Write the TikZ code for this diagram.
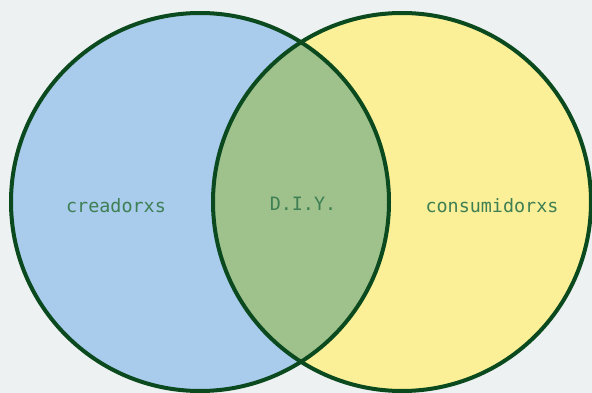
\documentclass[tikz,border=0pt]{standalone}
\usepackage{fontspec}
\newfontfamily\monofont{DejaVu Sans Mono}
\definecolor{bgc}{HTML}{EEF1F1}
\definecolor{bluefill}{HTML}{A9CBEC}
\definecolor{yellowfill}{HTML}{FBF097}
\definecolor{greenfill}{HTML}{9FC18C}
\definecolor{outline}{HTML}{0B4A1F}
\definecolor{labelc}{HTML}{3E7F54}
\tikzset{
  ring/.style={draw=outline, line width=4pt},
  lbl/.style={text=labelc, font=\monofont\fontsize{18.4}{21}\selectfont, inner sep=0pt}
}
\begin{document}
\begin{tikzpicture}[x=1pt,y=-1pt]
\fill[bgc] (0,0) rectangle (592,393);
\useasboundingbox (0,0) rectangle (592,393);
\coordinate (cl) at (200,202);
\coordinate (cr) at (402,202);
\fill[bluefill] (cl) circle[radius=189];
\fill[yellowfill] (cr) circle[radius=189];
\begin{scope}
  \clip (cl) circle[radius=189];
  \fill[greenfill] (cr) circle[radius=189];
\end{scope}
\draw[ring] (cl) circle[radius=189];
\draw[ring] (cr) circle[radius=189];
\node[lbl] (creadores) at (116,206) {creadorxs};
\node[lbl] (diy) at (303,204) {D.I.Y.};
\node[lbl] (consumidores) at (492,206) {consumidorxs};
\end{tikzpicture}
\end{document}
